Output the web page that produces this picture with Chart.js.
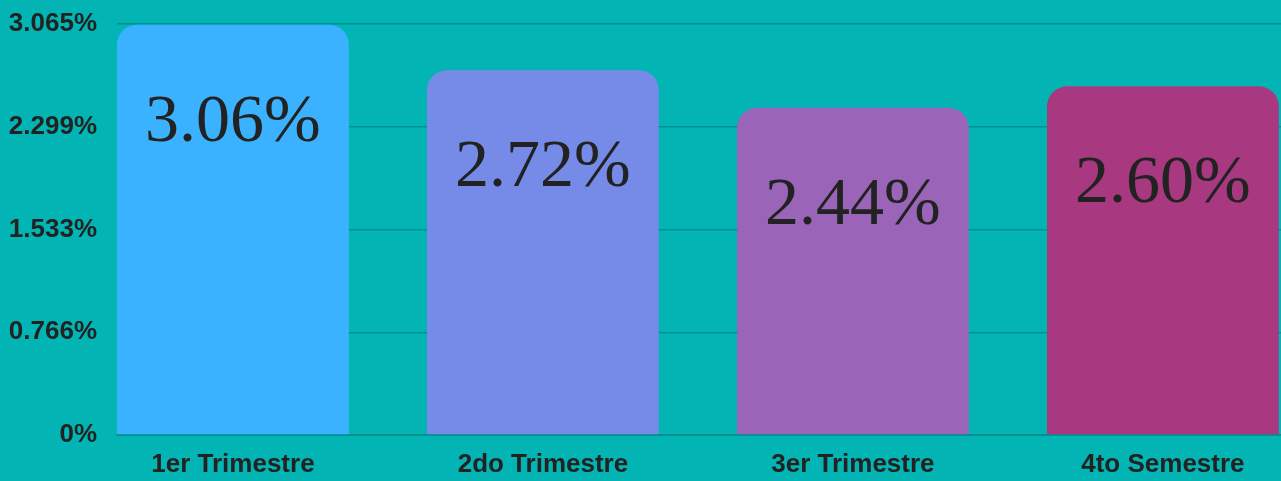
<!DOCTYPE html>
<html>
<head>
<meta charset="utf-8">
<script src="https://cdn.jsdelivr.net/npm/chart.js@4"></script>
<style>
  html, body { margin: 0; padding: 0; background: #02b5b4; }
  #wrap { width: 1281px; height: 481px; position: relative; }
</style>
</head>
<body>
<div id="wrap"><canvas id="myChart"></canvas></div>
<script>
// 資料
const categories = ['1er Trimestre', '2do Trimestre', '3er Trimestre', '4to Semestre'];
const values = [3.06, 2.72, 2.44, 2.60];
const barColors = ['#3bb2ff', '#768be8', '#9a65b8', '#a8387f'];
const yTickLabels = ['0%', '0.766%', '1.533%', '2.299%', '3.065%'];
const yMax = 3.065;

// 外掛：在長條內畫數值
const valueLabelPlugin = {
    id: 'valueLabels',
    afterDatasetsDraw(chart) {
        const ctx = chart.ctx;
        const meta = chart.getDatasetMeta(0);
        ctx.save();
        ctx.font = '68px "Liberation Serif", serif';
        ctx.fillStyle = '#222222';
        ctx.textAlign = 'center';
        ctx.textBaseline = 'alphabetic';
        meta.data.forEach((bar, i) => {
            ctx.fillText(values[i].toFixed(2) + '%', bar.x, bar.y + 116);
        });
        ctx.restore();
    }
};

const axisFont = { family: '"Liberation Sans", Arial, sans-serif', size: 26, weight: 'bold' };

const ctx = document.getElementById('myChart').getContext('2d');
const myChart = new Chart(ctx, {
    type: 'bar',
    data: {
        datasets: [{
            data: values.map((v, i) => ({ x: i, y: v })),
            backgroundColor: barColors,
            borderRadius: 20,
            borderSkipped: 'start',
            categoryPercentage: 1,
            barPercentage: 0.748
        }]
    },
    options: {
        responsive: true,
        maintainAspectRatio: false,
        animation: false,
        layout: { padding: { top: 24, right: 0, bottom: 0, left: 0 } },
        plugins: {
            legend: { display: false },
            tooltip: { enabled: false }
        },
        scales: {
            x: {
                type: 'linear',
                offset: false,
                min: -0.374,
                max: 3.381,
                grid: { display: false },
                border: { display: true, color: '#00908f', width: 2 },
                afterFit(scale) { scale.height = 46; scale.paddingLeft = 0; scale.paddingRight = 0; },
                ticks: {
                    stepSize: 1,
                    includeBounds: false,
                    maxRotation: 0,
                    autoSkip: false,
                    padding: 6,
                    color: '#222222',
                    font: axisFont,
                    callback: (v) => categories[v] ?? ''
                }
            },
            y: {
                min: 0,
                max: yMax,
                grid: { color: '#00908f', lineWidth: 1.5, drawTicks: false },
                border: { display: false },
                afterFit(scale) { scale.width = 117; scale.paddingTop = 0; scale.paddingBottom = 0; },
                ticks: {
                    count: 5,
                    padding: 20,
                    color: '#222222',
                    font: axisFont,
                    callback: (v, i) => yTickLabels[i]
                }
            }
        }
    },
    plugins: [valueLabelPlugin]
});
</script>
</body>
</html>
